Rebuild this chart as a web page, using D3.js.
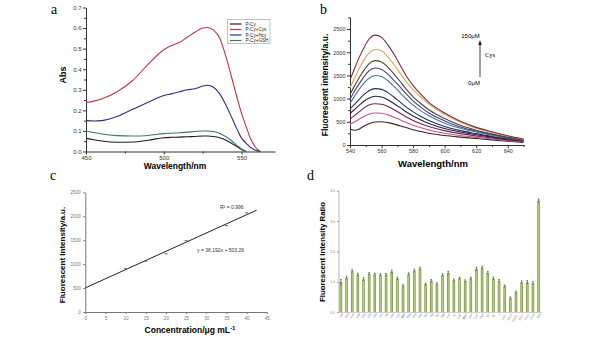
<!DOCTYPE html>
<html><head><meta charset="utf-8">
<script src="https://cdn.jsdelivr.net/npm/d3@7"></script>
<style>body{margin:0;background:#fff} svg{display:block} text{font-family:"Liberation Sans",Arial,sans-serif}</style>
</head><body><svg id="c" width="591" height="338"></svg>
<script>
// ---------- Panel a data ----------
const absWl = [450,455,460,470,480,490,500,505,510,515,520,525,528,532,536,540,544,547,550,553,556,559,562];
const absCy    = [0.064,0.057,0.051,0.045,0.046,0.055,0.067,0.069,0.070,0.072,0.073,0.075,0.075,0.073,0.067,0.055,0.038,0.024,0.010,0.0,null,null,null];
const absCys   = [0.238,0.245,0.255,0.290,0.345,0.425,0.495,0.515,0.530,0.555,0.580,0.600,0.603,0.590,0.550,0.460,0.350,0.265,0.185,0.120,0.058,0.020,0.0];
const absHcy   = [0.150,0.148,0.150,0.170,0.205,0.240,0.272,0.280,0.290,0.300,0.305,0.318,0.322,0.312,0.280,0.225,0.160,0.110,0.065,0.040,0.018,0.006,0.0];
const absGSH   = [0.100,0.092,0.085,0.077,0.075,0.078,0.087,0.089,0.091,0.094,0.097,0.100,0.100,0.097,0.088,0.072,0.050,0.030,0.012,0.0,null,null,null];
const absNames = ["P-Cy","P-Cy+Cys","P-Cy+Hcy","P-Cy+GSH"];
const absColors = ["#1e1e1e","#b8383c","#2e2e88","#3a7868"];

// ---------- Panel b data ----------
const flWl = [540,543,546,549,552,556,560,564,568,572,576,580,585,590,600,610,620,630,640,650];
const flSeries = [
  [1400,1660,1900,2110,2280,2370,2320,2160,1950,1710,1470,1280,1090,920,690,510,380,285,200,130],
  [1230,1450,1660,1840,1980,2060,2030,1900,1730,1540,1350,1190,1030,880,660,490,360,270,190,125],
  [1090,1280,1460,1620,1750,1820,1790,1680,1530,1360,1190,1040,890,760,570,425,320,240,170,110],
  [990,1170,1330,1480,1600,1660,1630,1530,1390,1240,1090,950,810,690,520,390,300,225,160,105],
  [900,1060,1210,1340,1440,1500,1475,1385,1260,1120,980,860,735,630,470,360,280,210,150,100],
  [780,880,990,1090,1170,1215,1200,1130,1030,920,810,715,615,530,400,310,245,185,135,90],
  [680,770,860,950,1010,1050,1035,975,890,800,705,625,540,465,355,280,220,170,125,85],
  [560,640,720,800,860,890,880,830,760,680,600,530,460,400,310,245,195,150,110,75],
  [450,500,560,620,665,690,685,650,600,540,480,425,370,325,255,205,165,130,95,65],
  [345,318,345,410,460,495,500,482,450,410,370,330,290,255,205,170,140,110,80,55]
];
const flColors = ["#7b2d43","#dfa25e","#4a4a2c","#4b3c8c","#55708e","#1d2f63","#23233f","#6b2650","#d0508c","#3a2424"];

// ---------- Panel c data ----------
const concX = [10,15,20,25,35,40];
const concY = [905,1060,1215,1490,1805,2070];
const fitSlope = 38.192, fitIntercept = 503.26;

// ---------- Panel d data ----------
const ratioLabels = ["Ala","Arg","Asn","Asp","Gln","Glu","Gly","His","Ile","Leu","Lys","Met","Phe","Pro","Ser","Thr","Trp","Tyr","Val","Na⁺","K⁺","Ca²⁺","Mg²⁺","Zn²⁺","Cu²⁺","Fe³⁺","Cl⁻","Br⁻","I⁻","NO₃⁻","SO₄²⁻","HSO₃⁻","SO₃²⁻","H₂O₂","GSH","Cys"];
const ratioValues = [0.99,1.13,1.35,1.23,1.08,1.26,1.24,1.23,1.23,1.33,1.10,0.87,1.25,1.36,1.43,0.92,1.03,0.93,1.22,1.29,1.05,1.11,1.02,1.11,1.42,1.46,1.29,1.10,1.03,0.85,0.46,0.65,0.98,0.98,0.95,3.67];
const ratioErr    = [0.08,0.05,0.05,0.05,0.06,0.04,0.04,0.04,0.04,0.05,0.05,0.04,0.04,0.05,0.05,0.04,0.04,0.04,0.04,0.05,0.04,0.04,0.04,0.04,0.06,0.05,0.05,0.05,0.04,0.04,0.04,0.04,0.05,0.06,0.05,0.06];

const svg = d3.select("#c");
svg.append("rect").attr("width",591).attr("height",338).attr("fill","#fff");

function styleAxis(g, color, fs){
  g.selectAll("path,line").attr("stroke",color);
  g.selectAll("text").attr("fill",color).style("font-size",fs+"px").style("font-family","'Liberation Sans',Arial,sans-serif");
}

// ================= Panel a =================
{
  const x = d3.scaleLinear().domain([450,571.5]).range([86,275]);
  const y = d3.scaleLinear().domain([0,0.7]).range([151.5,7.5]);
  const g = svg.append("g");
  const gx = g.append("g").attr("transform","translate(0,151.5)")
    .call(d3.axisBottom(x).tickValues([450,500,550]).tickSize(3).tickPadding(1).tickSizeOuter(0));
  styleAxis(gx,"#333",6);
  g.append("g").attr("transform","translate(0,151.5)")
    .call(d3.axisBottom(x).tickValues([475,525]).tickSize(2).tickFormat("").tickSizeOuter(0))
    .call(s=>{s.select("path").remove(); s.selectAll("line").attr("stroke","#333");});
  const gy = g.append("g").attr("transform","translate(86,0)")
    .call(d3.axisLeft(y).tickValues(d3.range(0,0.71,0.1)).tickFormat(d3.format(".1f")).tickSize(3).tickPadding(1.5).tickSizeOuter(0));
  styleAxis(gy,"#333",6);
  g.append("g").attr("transform","translate(86,0)")
    .call(d3.axisLeft(y).tickValues(d3.range(0.05,0.7,0.1)).tickSize(2).tickFormat(""))
    .call(s=>{s.select("path").remove(); s.selectAll("line").attr("stroke","#333");});
  const series = [absCy,absCys,absHcy,absGSH];
  const line = d3.line().defined(d=>d[1]!=null).x(d=>x(d[0])).y(d=>y(d[1])).curve(d3.curveMonotoneX);
  series.forEach((s,i)=>{
    g.append("path").attr("d",line(absWl.map((w,j)=>[w,s[j]]))).attr("fill","none")
      .attr("stroke",absColors[i]).attr("stroke-width",1.1);
  });
  // legend
  const lg = g.append("g");
  lg.append("rect").attr("x",227.5).attr("y",19.5).attr("width",42.5).attr("height",24).attr("fill","#fff").attr("stroke","#999").attr("stroke-width",0.6);
  absNames.forEach((n,i)=>{
    const yy = 24 + i*5.5;
    lg.append("line").attr("x1",230).attr("x2",241.5).attr("y1",yy).attr("y2",yy).attr("stroke",absColors[i]).attr("stroke-width",1.2);
    lg.append("text").attr("x",245.5).attr("y",yy+1.6).text(n).style("font-size","4.6px").attr("fill","#222");
  });
  g.append("text").attr("transform","translate(66,75) rotate(-90)").attr("text-anchor","middle")
    .style("font-size","9px").style("font-weight","bold").text("Abs");
  g.append("text").attr("x",175).attr("y",169).attr("text-anchor","middle")
    .style("font-size","8.5px").style("font-weight","bold").text("Wavelength/nm");
  g.append("text").attr("x",51).attr("y",14).style("font-family","'Liberation Serif',serif").style("font-size","14px").text("a");
}

// ================= Panel b =================
{
  const x = d3.scaleLinear().domain([540,650.3]).range([350,524]);
  const y = d3.scaleLinear().domain([0,2760]).range([145,17]);
  const g = svg.append("g");
  const gx = g.append("g").attr("transform","translate(0,145)")
    .call(d3.axisBottom(x).tickValues(d3.range(540,641,20)).tickSize(3).tickPadding(1.5).tickSizeOuter(0));
  styleAxis(gx,"#333",5.5);
  g.append("g").attr("transform","translate(0,145)")
    .call(d3.axisBottom(x).tickValues(d3.range(550,651,20)).tickSize(2).tickFormat(""))
    .call(s=>{s.select("path").remove(); s.selectAll("line").attr("stroke","#333");});
  const gy = g.append("g").attr("transform","translate(350,0)")
    .call(d3.axisLeft(y).tickValues(d3.range(0,2501,500)).tickFormat(d3.format("d")).tickSize(3).tickPadding(1.5).tickSizeOuter(0));
  styleAxis(gy,"#333",5.5);
  g.append("g").attr("transform","translate(350,0)")
    .call(d3.axisLeft(y).tickValues(d3.range(250,2751,500)).tickSize(2).tickFormat(""))
    .call(s=>{s.select("path").remove(); s.selectAll("line").attr("stroke","#333");});
  const line = d3.line().x(d=>x(d[0])).y(d=>y(d[1])).curve(d3.curveMonotoneX);
  flSeries.slice().reverse().forEach((s,ri)=>{
    const i = flSeries.length-1-ri;
    g.append("path").attr("d",line(flWl.map((w,j)=>[w,s[j]]))).attr("fill","none")
      .attr("stroke",flColors[i]).attr("stroke-width",1.1);
  });
  g.append("text").attr("x",470.5).attr("y",38).attr("text-anchor","middle").style("font-size","6px").text("150μM");
  g.append("text").attr("x",474).attr("y",85).attr("text-anchor","middle").style("font-size","6px").text("0μM");
  g.append("text").attr("x",485).attr("y",57).style("font-family","'Liberation Serif',serif").style("font-size","6.5px").text("Cys");
  g.append("line").attr("x1",480).attr("x2",480).attr("y1",77).attr("y2",43).attr("stroke","#111").attr("stroke-width",0.8);
  g.append("path").attr("d","M478.3,45 L480,40 L481.7,45 Z").attr("fill","#111");
  g.append("text").attr("transform","translate(328,85) rotate(-90)").attr("text-anchor","middle")
    .style("font-size","8.5px").style("font-weight","bold").text("Fluorescent intensity/a.u.");
  g.append("text").attr("x",433).attr("y",167).attr("text-anchor","middle")
    .style("font-size","9.5px").style("font-weight","bold").text("Wavelength/nm");
  g.append("text").attr("x",320).attr("y",14).style("font-family","'Liberation Serif',serif").style("font-size","14px").text("b");
}

// ================= Panel c =================
{
  const x = d3.scaleLinear().domain([0,45]).range([85.3,266.7]);
  const y = d3.scaleLinear().domain([0,2500]).range([312,192.3]);
  const g = svg.append("g");
  const gx = g.append("g").attr("transform","translate(0,312)")
    .call(d3.axisBottom(x).tickValues(d3.range(0,46,5)).tickSize(2).tickPadding(2.5).tickSizeOuter(0));
  styleAxis(gx,"#777",4.6);
  const gy = g.append("g").attr("transform","translate(85.3,0)")
    .call(d3.axisLeft(y).tickValues(d3.range(0,2501,500)).tickFormat(d3.format("d")).tickSize(2).tickPadding(2.5).tickSizeOuter(0));
  styleAxis(gy,"#777",4.6);
  g.append("line").attr("x1",x(0)).attr("x2",x(42.5)).attr("y1",y(fitIntercept)).attr("y2",y(fitIntercept+fitSlope*42.5))
    .attr("stroke","#222").attr("stroke-width",1);
  g.selectAll(".pt").data(concX).enter().append("line")
    .attr("x1",(d)=>x(d)-1.5).attr("x2",(d)=>x(d)+1.5)
    .attr("y1",(d,i)=>y(concY[i])).attr("y2",(d,i)=>y(concY[i]))
    .attr("stroke","#666").attr("stroke-width",1);
  g.append("text").attr("x",220).attr("y",209).style("font-size","5px").attr("fill","#333").text("R² = 0.996");
  g.append("text").attr("x",197).attr("y",252).style("font-size","5px").attr("fill","#333").text("y = 38.192x + 503.26");
  g.append("text").attr("transform","translate(65,255) rotate(-90)").attr("text-anchor","middle")
    .style("font-size","8px").style("font-weight","bold").text("Fluorescent intensity/a.u.");
  const t = g.append("text").attr("x",190).attr("y",333).attr("text-anchor","middle")
    .style("font-size","8.5px").style("font-weight","bold");
  t.append("tspan").text("Concentration/μg mL");
  t.append("tspan").attr("dy",-3).style("font-size","6px").text("-1");
  g.append("text").attr("x",50).attr("y",180).style("font-family","'Liberation Serif',serif").style("font-size","14px").text("c");
}

// ================= Panel d =================
{
  const defs = svg.append("defs");
  const grad = defs.append("linearGradient").attr("id","barg").attr("x1","0").attr("x2","1").attr("y1","0").attr("y2","0");
  grad.append("stop").attr("offset","0").attr("stop-color","#6d8a35");
  grad.append("stop").attr("offset","0.5").attr("stop-color","#b8d27a");
  grad.append("stop").attr("offset","1").attr("stop-color","#6d8a35");
  const x = d3.scaleBand().domain(ratioLabels).range([338.5,541]).paddingInner(0.55).paddingOuter(0.2);
  const y = d3.scaleLinear().domain([0,4]).range([312,190.7]);
  const g = svg.append("g");
  g.selectAll(".bar").data(ratioValues).enter().append("rect")
    .attr("x",(d,i)=>x(ratioLabels[i])).attr("width",x.bandwidth())
    .attr("y",d=>y(d)).attr("height",d=>y(0)-y(d)).attr("fill","url(#barg)");
  g.selectAll(".err").data(ratioValues).enter().append("path")
    .attr("d",(d,i)=>{const cx=x(ratioLabels[i])+x.bandwidth()/2, t=y(d+ratioErr[i]), b=y(d-ratioErr[i]);
      return `M${cx},${t}V${b}M${cx-0.8},${t}H${cx+0.8}`;})
    .attr("stroke","#333").attr("stroke-width",0.6).attr("fill","none");
  const gx = g.append("g").attr("transform","translate(0,312)")
    .call(d3.axisBottom(x).tickSize(0).tickPadding(2).tickSizeOuter(0));
  gx.selectAll("path").attr("stroke","#aaa").attr("stroke-width",0.6);
  gx.selectAll("text").attr("fill","#777").style("font-size","3.2px")
    .attr("text-anchor","end").attr("transform","rotate(-60)").attr("dx","-0.5").attr("dy","1");
  const gy = g.append("g").attr("transform","translate(338.5,0)")
    .call(d3.axisLeft(y).tickValues([0,1,2,3,4]).tickSize(1.5).tickPadding(2).tickSizeOuter(0));
  styleAxis(gy,"#888",3.5);
  gy.select("path").attr("stroke-width",0.6);
  g.append("text").attr("transform","translate(325,252) rotate(-90)").attr("text-anchor","middle")
    .style("font-size","7.8px").style("font-weight","bold").text("Fluorescent Intensity Ratio");
  g.append("text").attr("x",307).attr("y",180).style("font-family","'Liberation Serif',serif").style("font-size","14px").text("d");
}
</script></body></html>
